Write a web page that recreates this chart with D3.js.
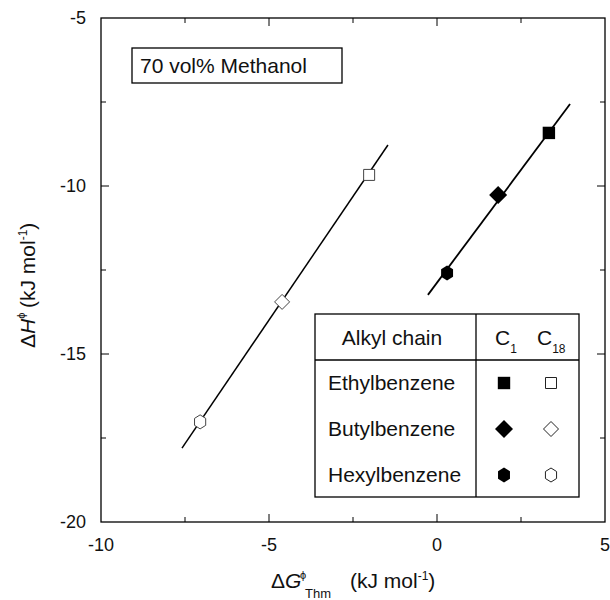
<!DOCTYPE html>
<html>
<head>
    <meta charset="utf-8">
    <title>Enthalpy vs free energy</title>
    <script src="https://d3js.org/d3.v7.min.js"></script>
    <style>
        body { margin: 0; background: #fff; }
        text { font-family: "Liberation Sans", Arial, Helvetica, sans-serif; fill: #111; }
    </style>
</head>
<body>
    <script>
        // values
        var compounds = ["Ethylbenzene", "Butylbenzene", "Hexylbenzene"];
        var shapes = ["square", "diamond", "hexagon"];
        var c1X = [3.33, 1.82, 0.30];
        var c1Y = [-8.42, -10.27, -12.59];
        var c18X = [-2.02, -4.61, -7.05];
        var c18Y = [-9.67, -13.45, -17.02];
        // fitted lines (end points)
        var c1LineX = [-0.27, 3.96];
        var c1LineY = [-13.24, -7.56];
        var c18LineX = [-7.59, -1.46];
        var c18LineY = [-17.80, -8.78];
        var xTicks = [-10, -5, 0, 5];
        var yTicks = [-20, -15, -10, -5];
        var xMinor = [-7.5, -2.5, 2.5];
        var yMinor = [-17.5, -12.5, -7.5];

        var W = 610, H = 600;
        var pLeft = 101, pRight = 605, pTop = 18, pBottom = 522;

        var x = d3.scaleLinear().domain([-10, 5]).range([pLeft, pRight]);
        var y = d3.scaleLinear().domain([-20, -5]).range([pBottom, pTop]);

        var svg = d3.select("body").append("svg")
            .attr("width", W)
            .attr("height", H);

        // frame
        svg.append("rect")
            .attr("x", pLeft).attr("y", pTop)
            .attr("width", pRight - pLeft).attr("height", pBottom - pTop)
            .attr("fill", "none").attr("stroke", "#000").attr("stroke-width", 1.3);

        // ticks, inward on all four sides
        var major = 8, minor = 5;
        function addTicks(vals, len) {
            vals.forEach(function(v) {
                svg.append("line").attr("x1", x(v)).attr("x2", x(v))
                    .attr("y1", pBottom).attr("y2", pBottom - len).attr("stroke", "#000");
                svg.append("line").attr("x1", x(v)).attr("x2", x(v))
                    .attr("y1", pTop).attr("y2", pTop + len).attr("stroke", "#000");
            });
        }
        function addYTicks(vals, len) {
            vals.forEach(function(v) {
                svg.append("line").attr("y1", y(v)).attr("y2", y(v))
                    .attr("x1", pLeft).attr("x2", pLeft + len).attr("stroke", "#000");
                svg.append("line").attr("y1", y(v)).attr("y2", y(v))
                    .attr("x1", pRight).attr("x2", pRight - len).attr("stroke", "#000");
            });
        }
        addTicks(xTicks.slice(1, -1), major);
        addTicks(xMinor, minor);
        addYTicks(yTicks.slice(1, -1), major);
        addYTicks(yMinor, minor);

        svg.selectAll(".xl").data(xTicks).enter().append("text")
            .attr("x", function(d) { return x(d); })
            .attr("y", 551)
            .attr("text-anchor", "middle")
            .style("font-size", "18px")
            .text(function(d) { return d; });

        svg.selectAll(".yl").data(yTicks).enter().append("text")
            .attr("x", 86)
            .attr("y", function(d) { return y(d); })
            .attr("dy", "0.35em")
            .attr("text-anchor", "end")
            .style("font-size", "18px")
            .text(function(d) { return d; });

        // axis titles
        var xt = svg.append("text").attr("x", 271).attr("y", 588).style("font-size", "21px");
        xt.append("tspan").text("Δ");
        xt.append("tspan").style("font-style", "italic").text("G");
        xt.append("tspan").attr("x", 300).attr("y", 579).style("font-size", "11px").text("ϕ");
        xt.append("tspan").attr("x", 305).attr("y", 598).style("font-size", "13px").text("Thm");
        xt.append("tspan").attr("x", 350).attr("y", 588).text("(kJ mol");
        xt.append("tspan").attr("dy", -8).style("font-size", "12px").text("-1");
        xt.append("tspan").attr("dy", 8).text(")");

        var yt = svg.append("text")
            .attr("transform", "translate(35,348) rotate(-90)")
            .style("font-size", "21px");
        yt.append("tspan").text("Δ");
        yt.append("tspan").style("font-style", "italic").text("H");
        yt.append("tspan").attr("dy", -10).style("font-size", "11px").text("ϕ");
        yt.append("tspan").attr("x", 40).attr("y", 0).text("(kJ mol");
        yt.append("tspan").attr("dy", -8).style("font-size", "12px").text("-1");
        yt.append("tspan").attr("dy", 8).text(")");

        // title box
        svg.append("rect").attr("x", 132).attr("y", 48).attr("width", 210).attr("height", 35)
            .attr("fill", "#fff").attr("stroke", "#000").attr("stroke-width", 1.3);
        svg.append("text").attr("x", 140).attr("y", 73).style("font-size", "21px").text("70 vol% Methanol");

        // regression lines
        var line = d3.line().x(function(d) { return x(d[0]); }).y(function(d) { return y(d[1]); });
        svg.append("path").datum(d3.zip(c18LineX, c18LineY))
            .attr("d", line).attr("fill", "none").attr("stroke", "#000").attr("stroke-width", 1.5);
        svg.append("path").datum(d3.zip(c1LineX, c1LineY))
            .attr("d", line).attr("fill", "none").attr("stroke", "#000").attr("stroke-width", 1.8);

        // marker shapes
        function shapePath(kind, filled) {
            var p = d3.path();
            if (kind === "square") {
                var s = filled ? 6.2 : 5.5;
                p.rect(-s, -s, 2 * s, 2 * s);
            } else if (kind === "diamond") {
                var r = filled ? 9 : 7.5;
                p.moveTo(0, -r); p.lineTo(r, 0); p.lineTo(0, r); p.lineTo(-r, 0); p.closePath();
            } else {
                var h = filled ? 7.5 : 7;
                for (var i = 0; i < 6; i++) {
                    var a = Math.PI / 3 * i - Math.PI / 2;
                    var px = h * 0.92 * Math.cos(a), py = h * Math.sin(a);
                    if (i === 0) p.moveTo(px, py); else p.lineTo(px, py);
                }
                p.closePath();
            }
            return p.toString();
        }

        svg.selectAll(".c18").data(d3.range(c18X.length)).enter().append("path")
            .attr("transform", function(i) { return "translate(" + x(c18X[i]) + "," + y(c18Y[i]) + ")"; })
            .attr("d", function(i) { return shapePath(shapes[i], false); })
            .attr("fill", "#fff").attr("stroke", "#444").attr("stroke-width", 1);

        svg.selectAll(".c1").data(d3.range(c1X.length)).enter().append("path")
            .attr("transform", function(i) { return "translate(" + x(c1X[i]) + "," + y(c1Y[i]) + ")"; })
            .attr("d", function(i) { return shapePath(shapes[i], true); })
            .attr("fill", "#000").attr("stroke", "none");

        // legend table
        var lg = svg.append("g");
        lg.append("rect").attr("x", 315).attr("y", 314).attr("width", 264).attr("height", 183)
            .attr("fill", "#fff").attr("stroke", "#000").attr("stroke-width", 1.3);
        lg.append("line").attr("x1", 476).attr("x2", 476).attr("y1", 314).attr("y2", 497)
            .attr("stroke", "#000").attr("stroke-width", 1.3);
        lg.append("line").attr("x1", 315).attr("x2", 579).attr("y1", 360).attr("y2", 360)
            .attr("stroke", "#000").attr("stroke-width", 1.3);
        lg.append("text").attr("x", 392).attr("y", 345).attr("text-anchor", "middle")
            .style("font-size", "21px").text("Alkyl chain");
        var h1 = lg.append("text").attr("x", 495).attr("y", 345).style("font-size", "21px");
        h1.append("tspan").text("C");
        h1.append("tspan").attr("dy", 8).style("font-size", "12px").text("1");
        var h2 = lg.append("text").attr("x", 537).attr("y", 345).style("font-size", "21px");
        h2.append("tspan").text("C");
        h2.append("tspan").attr("dy", 8).style("font-size", "12px").text("18");

        var rowY = [383, 429, 475];
        compounds.forEach(function(c, i) {
            lg.append("text").attr("x", 328).attr("y", rowY[i]).attr("dy", "0.35em")
                .style("font-size", "21px").text(c);
            lg.append("path").attr("transform", "translate(504," + rowY[i] + ")")
                .attr("d", shapePath(shapes[i], true)).attr("fill", "#000");
            lg.append("path").attr("transform", "translate(551," + rowY[i] + ")")
                .attr("d", shapePath(shapes[i], false)).attr("fill", "#fff")
                .attr("stroke", "#222").attr("stroke-width", 1);
        });
    </script>
</body>
</html>
